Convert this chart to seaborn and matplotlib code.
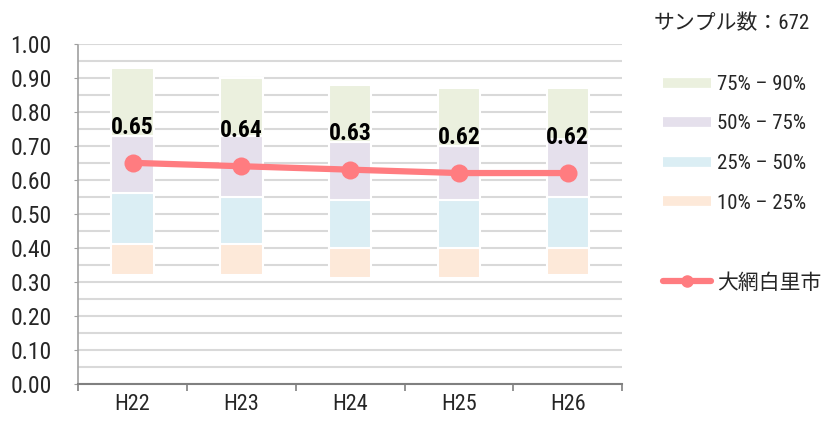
import numpy as np
import matplotlib.pyplot as plt
import seaborn as sns
from matplotlib.lines import Line2D
from matplotlib.ticker import MultipleLocator
from matplotlib import font_manager

# data
years = ["H22", "H23", "H24", "H25", "H26"]
p10 = [0.32, 0.32, 0.31, 0.31, 0.32]
p25 = [0.41, 0.41, 0.40, 0.40, 0.40]
p50 = [0.56, 0.55, 0.54, 0.54, 0.55]
p75 = [0.73, 0.73, 0.71, 0.70, 0.72]
p90 = [0.93, 0.90, 0.88, 0.87, 0.87]
city = [0.65, 0.64, 0.63, 0.62, 0.62]
band_labels = ["10% – 25%", "25% – 50%", "50% – 75%", "75% – 90%"]
city_name = "大網白里市"
sample_text = "サンプル数：672"

band_colors = ["#FDE9D9", "#DBEEF4", "#E5E0EC", "#EBF0DE"]
line_color = "#FF7C80"

sns.set_style("white")
installed = {f.name for f in font_manager.fontManager.ttflist}
narrow = [n for n in ["Liberation Sans Narrow", "Roboto Condensed", "Open Sans Condensed",
                      "Noto Sans Condensed"] if n in installed]
fonts = narrow + ["Noto Sans CJK JP", "DejaVu Sans"]
plt.rcParams["font.family"] = fonts
plt.rcParams["font.stretch"] = "condensed"

fig = plt.figure(figsize=(8.23, 4.21), dpi=100)
ax = fig.add_axes([0.095, 0.088, 0.661, 0.808])

x = np.arange(len(years))
edges = [p10, p25, p50, p75, p90]
for i in range(4):
    lo = np.array(edges[i])
    hi = np.array(edges[i + 1])
    ax.bar(x, hi - lo, bottom=lo, width=0.39, color=band_colors[i],
           edgecolor="white", linewidth=1.5, zorder=2)

sns.lineplot(x=x, y=city, ax=ax, color=line_color, lw=4.5, marker="o",
             markersize=13, markeredgewidth=0, zorder=4)

for xi, v in zip(x, city):
    ax.text(xi, v + 0.105, f"{v:.2f}", ha="center", va="center",
            fontsize=17, fontweight="bold", color="black", zorder=5)

ax.set_xlim(-0.5, 4.5)
ax.set_ylim(0, 1.0)
yt = np.round(np.arange(0, 1.01, 0.1), 2)
ax.set_yticks(yt)
ax.set_yticklabels([f"{t:.2f}" for t in yt])
ax.yaxis.set_minor_locator(MultipleLocator(0.05))
ax.grid(True, which="both", axis="y", color="#D9D9D9", lw=1.5, zorder=0)
ax.set_axisbelow(True)

ax.set_xticks(x)
ax.set_xticklabels(years)
ax.set_xticks(np.arange(-0.5, 5, 1), minor=True)
ax.tick_params(axis="x", which="major", length=0, labelsize=16, pad=7)
ax.tick_params(axis="x", which="minor", length=5, color="#808080", width=1.2, bottom=True)
ax.tick_params(axis="y", which="major", labelsize=17, length=3, color="#A0A0A0", left=True, pad=16)
ax.tick_params(axis="y", which="minor", length=0)

for s in ["top", "right"]:
    ax.spines[s].set_visible(False)
ax.spines["left"].set_linestyle((0, (1, 1)))
ax.spines["left"].set_color("#A0A0A0")
ax.spines["left"].set_linewidth(1.2)
ax.spines["bottom"].set_color("#808080")
ax.spines["bottom"].set_linewidth(1.5)

# legend
handles = [Line2D([], [], color=band_colors[i], lw=7, solid_capstyle="butt") for i in [3, 2, 1, 0]]
labels = [band_labels[i] for i in [3, 2, 1, 0]]
handles.append(Line2D([], [], color="none"))
labels.append("")
handles.append(Line2D([], [], color=line_color, lw=4.5, marker="o", markersize=8))
labels.append(city_name)
fig.legend(handles, labels, loc="upper left", bbox_to_anchor=(0.795, 0.842),
           frameon=False, fontsize=15, handlelength=2.3, handletextpad=0.3,
           labelspacing=0.99, borderaxespad=0)
fig.text(0.794, 0.945, sample_text, fontsize=15, ha="left", va="center")

fig.savefig("out.png", dpi=100)
